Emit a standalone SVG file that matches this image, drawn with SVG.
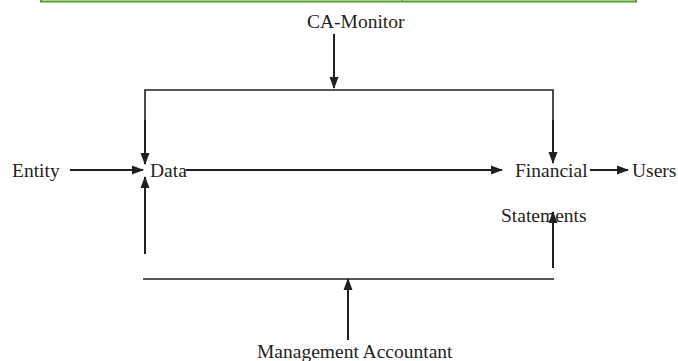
<svg xmlns="http://www.w3.org/2000/svg" width="678" height="361" viewBox="0 0 678 361">
<style>
text{font-family:"Liberation Serif","Times New Roman",serif;font-size:19.5px;fill:#231f20}
.ln{stroke:#231f20;stroke-width:2;fill:none}
.thin{stroke:#231f20;stroke-width:1.6;fill:none}
</style>
<defs>
<marker id="ah" markerWidth="12" markerHeight="10" refX="11" refY="5" orient="auto" markerUnits="userSpaceOnUse" viewBox="0 0 12 10">
<path d="M0,0.5 L12,5 L0,9.5 Z" fill="#231f20"/>
</marker>
</defs>
<rect width="678" height="361" fill="#fff"/>
<g id="frame">
<line x1="41" y1="1.5" x2="636" y2="1.5" stroke="#5a9a32" stroke-width="2"/>
<line x1="41" y1="-2" x2="41" y2="2.5" stroke="#5a9a32" stroke-width="2"/>
<line x1="636" y1="-2" x2="636" y2="2.5" stroke="#5a9a32" stroke-width="2"/>
<line x1="402" y1="-2" x2="402" y2="2" stroke="#5a9a32" stroke-width="1.5"/>
</g>
<g id="connectors">
<line class="ln" x1="334" y1="34" x2="334" y2="88" marker-end="url(#ah)"/>
<polyline class="thin" points="145,150 145,90 553,90 553,150"/>
<line class="ln" x1="145" y1="120" x2="145" y2="164" marker-end="url(#ah)"/>
<line class="ln" x1="553" y1="120" x2="553" y2="163" marker-end="url(#ah)"/>
<line class="ln" x1="70" y1="170" x2="143" y2="170" marker-end="url(#ah)"/>
<line class="ln" x1="186" y1="170" x2="502" y2="170" marker-end="url(#ah)"/>
<line class="ln" x1="590" y1="170" x2="628" y2="170" marker-end="url(#ah)"/>
<line class="ln" x1="145" y1="254" x2="145" y2="177" marker-end="url(#ah)"/>
<line class="ln" x1="553" y1="268" x2="553" y2="212" marker-end="url(#ah)"/>
<line class="thin" x1="143" y1="279" x2="554" y2="279"/>
<line class="ln" x1="348" y1="340" x2="348" y2="279" marker-end="url(#ah)"/>
</g>
<g id="ca-monitor"><text x="307" y="28">CA-Monitor</text></g>
<g id="entity"><text x="12" y="177">Entity</text></g>
<g id="data"><text x="150" y="177">Data</text></g>
<g id="financial-statements"><text x="515" y="177">Financial</text><text x="501" y="222">Statements</text></g>
<g id="users"><text x="632" y="177">Users</text></g>
<g id="management-accountant"><text x="257" y="358">Management Accountant</text></g>
</svg>
